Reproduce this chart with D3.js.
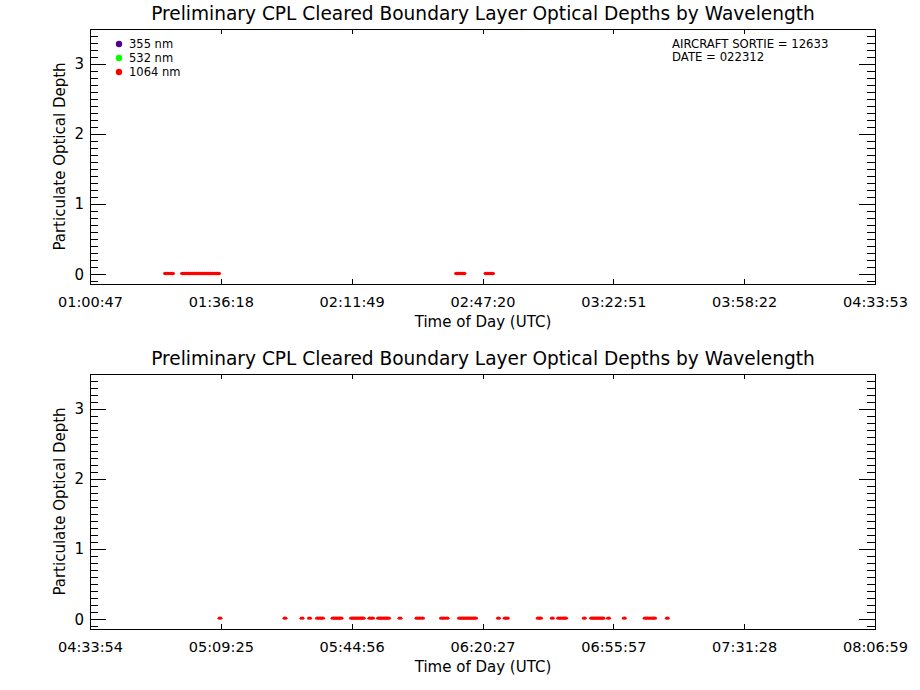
<!DOCTYPE html>
<html>
<head>
<meta charset="utf-8">
<script src="https://cdn.jsdelivr.net/npm/d3@7"></script>
<style>
  html, body { margin: 0; padding: 0; background: #fff; }
  svg { display: block; font-family: "DejaVu Sans ExtraLight", "DejaVu Sans", sans-serif; }
</style>
</head>
<body>
<svg id="chart" width="920" height="690"></svg>
<script>
/* chart text */
const titleText = "Preliminary CPL Cleared Boundary Layer Optical Depths by Wavelength";
const xTitle = "Time of Day (UTC)";
const yTitle = "Particulate Optical Depth";
const infoLines = ["AIRCRAFT SORTIE = 12633", "DATE = 022312"];
const fontFam = "DejaVu Sans ExtraLight, DejaVu Sans, sans-serif";

/* legend */
const wavelengths = ["355 nm", "532 nm", "1064 nm"];
const waveColors = ["#55008f", "#00ff00", "#ff0000"];

/* y axis (same for both panels) */
const yDomain = [-0.14, 3.5];
const yMajor = [0, 1, 2, 3];

/* panel 1: time in seconds of day (UTC) */
const topDomain = [3647, 16433];
const topTickLabels = ["01:00:47", "01:36:18", "02:11:49", "02:47:20", "03:22:51", "03:58:22", "04:33:53"];
const top1064Times = [4877, 4917, 4958, 4991,
  5154, 5187, 5219, 5252, 5284, 5317, 5350, 5382, 5415, 5447, 5480, 5512, 5545, 5578, 5610, 5643, 5675, 5708, 5741,
  9617, 9649, 9682, 9714, 9739,
  10097, 10130, 10162, 10203];
const top1064Values = [0.01, 0.01, 0.01, 0.01,
  0.01, 0.01, 0.01, 0.01, 0.01, 0.01, 0.01, 0.01, 0.01, 0.01, 0.01, 0.01, 0.01, 0.01, 0.01, 0.01, 0.01, 0.01, 0.01,
  0.01, 0.01, 0.01, 0.01, 0.01,
  0.01, 0.01, 0.01, 0.01];

/* panel 2 */
const botDomain = [16434, 29219];
const botTickLabels = ["04:33:54", "05:09:25", "05:44:56", "06:20:27", "06:55:57", "07:31:28", "08:06:59"];
const bot1064Times = [18551, 19610, 19887, 20009, 20139, 20180, 20221,
  20392, 20424, 20457, 20489, 20522,
  20693, 20726, 20758, 20791, 20823, 20856, 20884,
  20991, 21035,
  21133, 21165, 21198, 21231, 21263, 21296,
  21483, 21760, 21801, 21849, 22159, 22200, 22249,
  22452, 22485, 22517, 22550, 22582, 22615, 22648, 22680, 22713,
  23087, 23196, 23229, 23734, 23771, 23964,
  24065, 24105, 24146, 24179, 24485,
  24602, 24634, 24667, 24700, 24732, 24765, 24789,
  24879, 25136, 25476, 25514, 25555, 25595, 25628, 25836];
const bot1064Values = [0.015, 0.015, 0.015, 0.015, 0.015, 0.015, 0.015,
  0.015, 0.015, 0.015, 0.015, 0.015,
  0.015, 0.015, 0.015, 0.015, 0.015, 0.015, 0.015,
  0.015, 0.015,
  0.015, 0.015, 0.015, 0.015, 0.015, 0.015,
  0.015, 0.015, 0.015, 0.015, 0.015, 0.015, 0.015,
  0.015, 0.015, 0.015, 0.015, 0.015, 0.015, 0.015, 0.015, 0.015,
  0.015, 0.015, 0.015, 0.015, 0.015, 0.015,
  0.015, 0.015, 0.015, 0.015, 0.015,
  0.015, 0.015, 0.015, 0.015, 0.015, 0.015, 0.015,
  0.015, 0.015, 0.015, 0.015, 0.015, 0.015, 0.015, 0.015];

const svg = d3.select("#chart");
const plotX = 90, plotW = 785, plotH = 255;

function drawPanel(top, domain, tickLabels, times, values, withLegend) {
  const x = d3.scaleLinear().domain(domain).range([plotX, plotX + plotW]);
  const y = d3.scaleLinear().domain(yDomain).range([top + plotH, top]);
  const g = svg.append("g");

  /** x tick positions: evenly split the panel span into six intervals. */
  const step = (domain[1] - domain[0]) / (tickLabels.length - 1);
  const xTicks = tickLabels.map((_, i) => domain[0] + i * step);
  const yMinor = d3.range(-1, 35).map((d) => d / 10).filter((d) => d % 1 !== 0);

  const tidy = (sel) => {
    sel.select(".domain").remove();
    sel.selectAll("line").attr("stroke", "#000").attr("shape-rendering", "crispEdges");
    sel.selectAll("text").attr("fill", "#000").attr("font-family", fontFam);
  };

  g.append("g").attr("transform", `translate(0,${top + plotH})`)
    .call(d3.axisBottom(x).tickValues(xTicks).tickSize(-5).tickPadding(13)
      .tickFormat((_, i) => tickLabels[i]))
    .call(tidy)
    .selectAll("text").attr("font-size", 14.5);
  g.append("g").attr("transform", `translate(0,${top})`)
    .call(d3.axisTop(x).tickValues(xTicks).tickSize(-5).tickFormat(""))
    .call(tidy);

  g.append("g").attr("transform", `translate(${plotX},0)`)
    .call(d3.axisLeft(y).tickValues(yMajor).tickSize(-16).tickPadding(6).tickFormat(d3.format("d")))
    .call(tidy)
    .selectAll("text").attr("font-size", 15);
  g.append("g").attr("transform", `translate(${plotX},0)`)
    .call(d3.axisLeft(y).tickValues(yMinor).tickSize(-8).tickFormat(""))
    .call(tidy);
  g.append("g").attr("transform", `translate(${plotX + plotW},0)`)
    .call(d3.axisRight(y).tickValues(yMajor).tickSize(-16).tickFormat(""))
    .call(tidy);
  g.append("g").attr("transform", `translate(${plotX + plotW},0)`)
    .call(d3.axisRight(y).tickValues(yMinor).tickSize(-8).tickFormat(""))
    .call(tidy);

  g.append("rect")
    .attr("x", plotX + 0.5).attr("y", top + 0.5)
    .attr("width", plotW).attr("height", plotH)
    .attr("fill", "none").attr("stroke", "#000").attr("stroke-width", 1);

  /* 1064 nm points */
  g.append("g").selectAll("ellipse")
    .data(times.map((t, i) => ({ t, v: values[i] })))
    .join("ellipse")
    .attr("cx", (d) => x(d.t))
    .attr("cy", (d) => y(d.v))
    .attr("rx", 2.5).attr("ry", 1.7)
    .attr("fill", waveColors[2]);

  /* titles */
  const title = g.append("text")
    .attr("x", 483).attr("y", top - 9)
    .attr("text-anchor", "middle").attr("font-size", 17.5)
    .attr("fill", "#000").text(titleText);
  const len = title.node().getComputedTextLength();
  if (len > 0) title.attr("font-size", 17.5 * 664 / len);

  g.append("text")
    .attr("x", 483).attr("y", top + plotH + 43)
    .attr("text-anchor", "middle").attr("font-size", 15)
    .attr("fill", "#000").text(xTitle);

  g.append("text")
    .attr("transform", `translate(65,${top + plotH / 2}) rotate(-90)`)
    .attr("text-anchor", "middle").attr("font-size", 15)
    .attr("fill", "#000").text(yTitle);

  if (withLegend) {
    const leg = g.append("g").selectAll("g")
      .data(wavelengths)
      .join("g")
      .attr("transform", (_, i) => `translate(119,${top + 15 + i * 14})`);
    leg.append("circle").attr("r", 3.2).attr("fill", (_, i) => waveColors[i]);
    leg.append("text").attr("x", 10).attr("y", 4)
      .attr("font-size", 11.5).attr("fill", "#000").text((d) => d);

    g.append("g").selectAll("text")
      .data(infoLines)
      .join("text")
      .attr("x", 672).attr("y", (_, i) => top + 18.5 + i * 13)
      .attr("font-size", 11.7).attr("fill", "#000")
      .text((d) => d);
  }
}

drawPanel(29, topDomain, topTickLabels, top1064Times, top1064Values, true);
drawPanel(374, botDomain, botTickLabels, bot1064Times, bot1064Values, false);
</script>
</body>
</html>
